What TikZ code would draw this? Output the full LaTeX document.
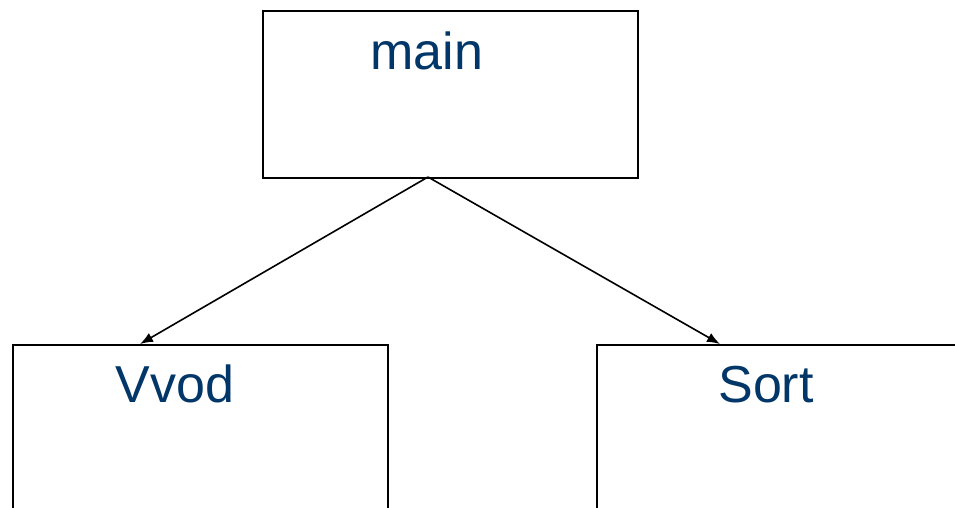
\documentclass[tikz,border=0pt]{standalone}
\usepackage{fontspec}
\setmainfont{Liberation Sans}
\usetikzlibrary{arrows.meta}
\definecolor{labelblue}{RGB}{0,54,104}
\begin{document}
\begin{tikzpicture}[x=1pt,y=-1pt,
  box/.style={draw=black,line width=1.8pt,fill=white,minimum width=375pt,minimum height=167pt,inner sep=0pt,anchor=north west},
  name label/.style={text=labelblue,font=\fontsize{52}{52}\selectfont,inner sep=0pt,anchor=base},
  link/.style={line width=1.6pt,-{Latex[length=13pt,width=10pt]}}]
  \useasboundingbox (0,0) rectangle (955,508);
  \clip (0,0) rectangle (955,508);
  % the three procedure boxes
  \node[box] (main) at (262,10) {};
  \node[box] (vvod) at (12,344) {};
  \node[box] (sort) at (596,344) {};
  % their names
  \node[name label] (mainname) at (427,70) {main};
  \node[name label] (vvodname) at (175,402) {Vvod};
  \node[name label] (sortname) at (766,402) {Sort};
  % call links
  \coordinate (fork) at (428,177);
  \coordinate (vvodin) at (140,344);
  \coordinate (sortin) at (720,344);
  \draw[link] (fork) -- (vvodin);
  \draw[link] (fork) -- (sortin);
\end{tikzpicture}
\end{document}
